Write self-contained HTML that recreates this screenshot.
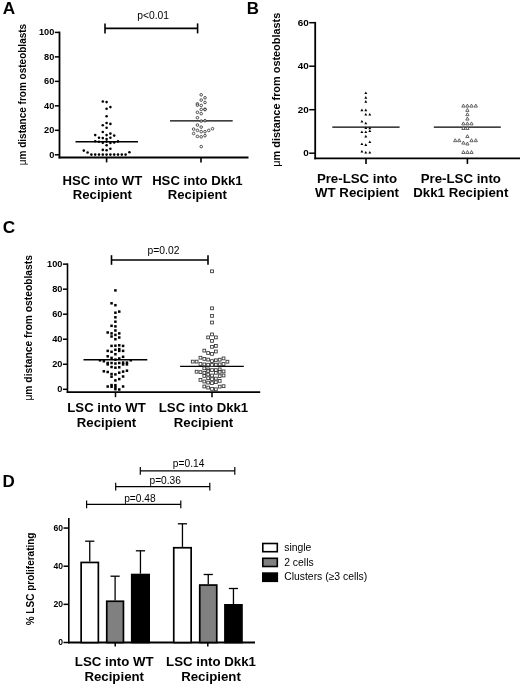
<!DOCTYPE html>
<html lang="en"><head><meta charset="utf-8"><title>Figure</title>
<style>
html,body{margin:0;padding:0;background:#fff;}
body{width:520px;height:686px;overflow:hidden;}
svg{display:block;will-change:transform;}
svg text{font-family:"Liberation Sans", Arial, Helvetica, sans-serif;fill:#000;}
</style></head><body>
<svg width="520" height="686" viewBox="0 0 520 686">
<rect x="0" y="0" width="520" height="686" fill="#fff"/>
<g id="panelA">
<text x="2.70" y="14.40" font-size="17.2" font-weight="bold" text-anchor="start" >A</text>
<text transform="translate(25.70,165.20) rotate(-90)" font-size="10" font-weight="bold"><tspan font-weight="normal">&#956;</tspan>m distance from osteoblasts</text>
<line x1="59.50" y1="31.60" x2="59.50" y2="158.40" stroke="#000" stroke-width="1.8"/>
<line x1="54.80" y1="154.80" x2="59.50" y2="154.80" stroke="#000" stroke-width="1.5"/>
<text x="54.30" y="157.65" font-size="9.2" font-weight="bold" text-anchor="end" >0</text>
<line x1="54.80" y1="130.32" x2="59.50" y2="130.32" stroke="#000" stroke-width="1.5"/>
<text x="54.30" y="133.17" font-size="9.2" font-weight="bold" text-anchor="end" >20</text>
<line x1="54.80" y1="105.84" x2="59.50" y2="105.84" stroke="#000" stroke-width="1.5"/>
<text x="54.30" y="108.69" font-size="9.2" font-weight="bold" text-anchor="end" >40</text>
<line x1="54.80" y1="81.36" x2="59.50" y2="81.36" stroke="#000" stroke-width="1.5"/>
<text x="54.30" y="84.21" font-size="9.2" font-weight="bold" text-anchor="end" >60</text>
<line x1="54.80" y1="56.88" x2="59.50" y2="56.88" stroke="#000" stroke-width="1.5"/>
<text x="54.30" y="59.73" font-size="9.2" font-weight="bold" text-anchor="end" >80</text>
<line x1="54.80" y1="32.40" x2="59.50" y2="32.40" stroke="#000" stroke-width="1.5"/>
<text x="54.30" y="35.25" font-size="9.2" font-weight="bold" text-anchor="end" >100</text>
<line x1="58.60" y1="157.50" x2="248.50" y2="157.50" stroke="#000" stroke-width="1.9"/>
<line x1="106.60" y1="157.50" x2="106.60" y2="162.40" stroke="#000" stroke-width="1.6"/>
<line x1="201.00" y1="157.50" x2="201.00" y2="162.40" stroke="#000" stroke-width="1.6"/>
<line x1="105.00" y1="28.40" x2="197.60" y2="28.40" stroke="#000" stroke-width="1.6"/>
<line x1="105.00" y1="23.40" x2="105.00" y2="33.40" stroke="#000" stroke-width="1.6"/>
<line x1="197.60" y1="23.40" x2="197.60" y2="33.40" stroke="#000" stroke-width="1.6"/>
<text x="153.20" y="19.20" font-size="10.3" font-weight="normal" text-anchor="middle" >p&lt;0.01</text>
<text x="102.40" y="184.90" font-size="13.15" font-weight="bold" text-anchor="middle" >HSC into WT</text>
<text x="102.40" y="199.10" font-size="13.15" font-weight="bold" text-anchor="middle" >Recipient</text>
<text x="197.40" y="184.90" font-size="13.15" font-weight="bold" text-anchor="middle" >HSC into Dkk1</text>
<text x="197.40" y="199.10" font-size="13.15" font-weight="bold" text-anchor="middle" >Recipient</text>
<line x1="75.50" y1="141.80" x2="138.00" y2="141.80" stroke="#000" stroke-width="1.4"/>
<line x1="170.00" y1="120.90" x2="232.70" y2="120.90" stroke="#000" stroke-width="1.4"/>
<circle cx="102.80" cy="101.50" r="1.28" fill="#000"/>
<circle cx="106.60" cy="102.10" r="1.28" fill="#000"/>
<circle cx="106.60" cy="108.70" r="1.28" fill="#000"/>
<circle cx="110.40" cy="107.10" r="1.28" fill="#000"/>
<circle cx="106.60" cy="116.30" r="1.28" fill="#000"/>
<circle cx="102.80" cy="125.30" r="1.28" fill="#000"/>
<circle cx="106.60" cy="123.00" r="1.28" fill="#000"/>
<circle cx="110.40" cy="123.90" r="1.28" fill="#000"/>
<circle cx="106.60" cy="127.70" r="1.28" fill="#000"/>
<circle cx="102.80" cy="132.00" r="1.28" fill="#000"/>
<circle cx="110.40" cy="133.60" r="1.28" fill="#000"/>
<circle cx="95.20" cy="135.10" r="1.28" fill="#000"/>
<circle cx="106.60" cy="135.10" r="1.28" fill="#000"/>
<circle cx="114.20" cy="135.60" r="1.28" fill="#000"/>
<circle cx="99.00" cy="137.80" r="1.28" fill="#000"/>
<circle cx="102.80" cy="138.10" r="1.28" fill="#000"/>
<circle cx="110.40" cy="137.80" r="1.28" fill="#000"/>
<circle cx="106.60" cy="139.10" r="1.28" fill="#000"/>
<circle cx="95.20" cy="141.20" r="1.28" fill="#000"/>
<circle cx="99.00" cy="141.80" r="1.28" fill="#000"/>
<circle cx="102.80" cy="142.80" r="1.28" fill="#000"/>
<circle cx="106.60" cy="141.60" r="1.28" fill="#000"/>
<circle cx="110.40" cy="143.00" r="1.28" fill="#000"/>
<circle cx="114.20" cy="142.40" r="1.28" fill="#000"/>
<circle cx="118.00" cy="141.40" r="1.28" fill="#000"/>
<circle cx="106.60" cy="145.20" r="1.28" fill="#000"/>
<circle cx="102.80" cy="149.90" r="1.28" fill="#000"/>
<circle cx="106.60" cy="150.20" r="1.28" fill="#000"/>
<circle cx="110.40" cy="148.80" r="1.28" fill="#000"/>
<circle cx="83.80" cy="150.60" r="1.28" fill="#000"/>
<circle cx="87.60" cy="152.50" r="1.28" fill="#000"/>
<circle cx="129.40" cy="152.20" r="1.28" fill="#000"/>
<circle cx="91.40" cy="154.60" r="1.28" fill="#000"/>
<circle cx="95.20" cy="154.60" r="1.28" fill="#000"/>
<circle cx="99.00" cy="154.60" r="1.28" fill="#000"/>
<circle cx="102.80" cy="154.60" r="1.28" fill="#000"/>
<circle cx="106.60" cy="154.60" r="1.28" fill="#000"/>
<circle cx="110.40" cy="154.60" r="1.28" fill="#000"/>
<circle cx="114.20" cy="154.60" r="1.28" fill="#000"/>
<circle cx="118.00" cy="154.60" r="1.28" fill="#000"/>
<circle cx="121.80" cy="154.60" r="1.28" fill="#000"/>
<circle cx="125.60" cy="154.60" r="1.28" fill="#000"/>
<circle cx="201.20" cy="94.80" r="1.3" fill="#fff" fill-opacity="0.6" stroke="#333" stroke-width="0.85"/>
<circle cx="204.98" cy="97.80" r="1.3" fill="#fff" fill-opacity="0.6" stroke="#333" stroke-width="0.85"/>
<circle cx="201.20" cy="100.10" r="1.3" fill="#fff" fill-opacity="0.6" stroke="#333" stroke-width="0.85"/>
<circle cx="204.98" cy="102.50" r="1.3" fill="#fff" fill-opacity="0.6" stroke="#333" stroke-width="0.85"/>
<circle cx="197.42" cy="103.80" r="1.3" fill="#fff" fill-opacity="0.6" stroke="#333" stroke-width="0.85"/>
<circle cx="197.42" cy="105.20" r="1.3" fill="#fff" fill-opacity="0.6" stroke="#333" stroke-width="0.85"/>
<circle cx="201.20" cy="105.50" r="1.3" fill="#fff" fill-opacity="0.6" stroke="#333" stroke-width="0.85"/>
<circle cx="201.20" cy="109.50" r="1.3" fill="#fff" fill-opacity="0.6" stroke="#333" stroke-width="0.85"/>
<circle cx="204.98" cy="109.20" r="1.3" fill="#fff" fill-opacity="0.6" stroke="#333" stroke-width="0.85"/>
<circle cx="204.98" cy="109.60" r="1.3" fill="#fff" fill-opacity="0.6" stroke="#333" stroke-width="0.85"/>
<circle cx="197.42" cy="112.30" r="1.3" fill="#fff" fill-opacity="0.6" stroke="#333" stroke-width="0.85"/>
<circle cx="201.20" cy="113.70" r="1.3" fill="#fff" fill-opacity="0.6" stroke="#333" stroke-width="0.85"/>
<circle cx="197.42" cy="117.70" r="1.3" fill="#fff" fill-opacity="0.6" stroke="#333" stroke-width="0.85"/>
<circle cx="201.20" cy="121.10" r="1.3" fill="#fff" fill-opacity="0.6" stroke="#333" stroke-width="0.85"/>
<circle cx="204.98" cy="120.70" r="1.3" fill="#fff" fill-opacity="0.6" stroke="#333" stroke-width="0.85"/>
<circle cx="197.42" cy="125.10" r="1.3" fill="#fff" fill-opacity="0.6" stroke="#333" stroke-width="0.85"/>
<circle cx="201.20" cy="127.10" r="1.3" fill="#fff" fill-opacity="0.6" stroke="#333" stroke-width="0.85"/>
<circle cx="193.64" cy="129.10" r="1.3" fill="#fff" fill-opacity="0.6" stroke="#333" stroke-width="0.85"/>
<circle cx="197.42" cy="130.40" r="1.3" fill="#fff" fill-opacity="0.6" stroke="#333" stroke-width="0.85"/>
<circle cx="201.20" cy="131.70" r="1.3" fill="#fff" fill-opacity="0.6" stroke="#333" stroke-width="0.85"/>
<circle cx="204.98" cy="131.70" r="1.3" fill="#fff" fill-opacity="0.6" stroke="#333" stroke-width="0.85"/>
<circle cx="208.76" cy="130.40" r="1.3" fill="#fff" fill-opacity="0.6" stroke="#333" stroke-width="0.85"/>
<circle cx="212.54" cy="128.70" r="1.3" fill="#fff" fill-opacity="0.6" stroke="#333" stroke-width="0.85"/>
<circle cx="193.64" cy="133.50" r="1.3" fill="#fff" fill-opacity="0.6" stroke="#333" stroke-width="0.85"/>
<circle cx="197.42" cy="136.40" r="1.3" fill="#fff" fill-opacity="0.6" stroke="#333" stroke-width="0.85"/>
<circle cx="201.20" cy="136.80" r="1.3" fill="#fff" fill-opacity="0.6" stroke="#333" stroke-width="0.85"/>
<circle cx="204.98" cy="135.70" r="1.3" fill="#fff" fill-opacity="0.6" stroke="#333" stroke-width="0.85"/>
<circle cx="201.20" cy="146.60" r="1.3" fill="#fff" fill-opacity="0.6" stroke="#333" stroke-width="0.85"/>
</g>
<g id="panelB">
<text x="246.70" y="14.30" font-size="16.9" font-weight="bold" text-anchor="start" >B</text>
<text transform="translate(280.40,166.70) rotate(-90)" font-size="10.9" font-weight="bold"><tspan font-weight="normal">&#956;</tspan>m distance from osteoblasts</text>
<line x1="315.20" y1="21.90" x2="315.20" y2="159.30" stroke="#000" stroke-width="1.8"/>
<line x1="309.20" y1="153.20" x2="315.20" y2="153.20" stroke="#000" stroke-width="1.5"/>
<text x="308.70" y="156.05" font-size="9.9" font-weight="bold" text-anchor="end" >0</text>
<line x1="309.20" y1="109.70" x2="315.20" y2="109.70" stroke="#000" stroke-width="1.5"/>
<text x="308.70" y="112.55" font-size="9.9" font-weight="bold" text-anchor="end" >20</text>
<line x1="309.20" y1="66.20" x2="315.20" y2="66.20" stroke="#000" stroke-width="1.5"/>
<text x="308.70" y="69.05" font-size="9.9" font-weight="bold" text-anchor="end" >40</text>
<line x1="309.20" y1="22.70" x2="315.20" y2="22.70" stroke="#000" stroke-width="1.5"/>
<text x="308.70" y="25.55" font-size="9.9" font-weight="bold" text-anchor="end" >60</text>
<line x1="314.30" y1="158.40" x2="520.00" y2="158.40" stroke="#000" stroke-width="1.9"/>
<line x1="366.00" y1="158.40" x2="366.00" y2="163.90" stroke="#000" stroke-width="1.6"/>
<line x1="467.40" y1="158.40" x2="467.40" y2="163.90" stroke="#000" stroke-width="1.6"/>
<text x="357.00" y="182.70" font-size="13.25" font-weight="bold" text-anchor="middle" >Pre-LSC into</text>
<text x="357.00" y="197.40" font-size="13.25" font-weight="bold" text-anchor="middle" >WT Recipient</text>
<text x="460.80" y="182.70" font-size="13.25" font-weight="bold" text-anchor="middle" >Pre-LSC into</text>
<text x="460.80" y="197.40" font-size="13.25" font-weight="bold" text-anchor="middle" >Dkk1 Recipient</text>
<line x1="332.30" y1="127.00" x2="399.60" y2="127.00" stroke="#000" stroke-width="1.25"/>
<line x1="433.80" y1="127.00" x2="500.80" y2="127.00" stroke="#000" stroke-width="1.25"/>
<polygon points="364.35,94.11 367.25,94.11 365.80,91.49" fill="#000"/>
<polygon points="364.35,98.71 367.25,98.71 365.80,96.09" fill="#000"/>
<polygon points="364.35,102.71 367.25,102.71 365.80,100.09" fill="#000"/>
<polygon points="360.45,111.21 363.35,111.21 361.90,108.59" fill="#000"/>
<polygon points="364.35,111.21 367.25,111.21 365.80,108.59" fill="#000"/>
<polygon points="364.35,115.51 367.25,115.51 365.80,112.89" fill="#000"/>
<polygon points="368.35,115.51 371.25,115.51 369.80,112.89" fill="#000"/>
<polygon points="360.45,122.61 363.35,122.61 361.90,119.99" fill="#000"/>
<polygon points="364.35,124.31 367.25,124.31 365.80,121.69" fill="#000"/>
<polygon points="364.35,129.10 367.25,129.10 365.80,126.49" fill="#000"/>
<polygon points="368.35,129.31 371.25,129.31 369.80,126.69" fill="#000"/>
<polygon points="360.45,133.00 363.35,133.00 361.90,130.39" fill="#000"/>
<polygon points="364.35,133.00 367.25,133.00 365.80,130.39" fill="#000"/>
<polygon points="368.35,132.11 371.25,132.11 369.80,129.50" fill="#000"/>
<polygon points="364.35,137.41 367.25,137.41 365.80,134.79" fill="#000"/>
<polygon points="368.35,143.11 371.25,143.11 369.80,140.50" fill="#000"/>
<polygon points="360.45,145.11 363.35,145.11 361.90,142.50" fill="#000"/>
<polygon points="364.35,145.91 367.25,145.91 365.80,143.29" fill="#000"/>
<polygon points="360.45,152.50 363.35,152.50 361.90,149.89" fill="#000"/>
<polygon points="364.35,153.61 367.25,153.61 365.80,151.00" fill="#000"/>
<polygon points="368.35,153.61 371.25,153.61 369.80,151.00" fill="#000"/>
<polygon points="461.75,107.08 465.05,107.08 463.40,104.11" fill="#fff" stroke="#444" stroke-width="0.8" stroke-linejoin="miter"/>
<polygon points="465.75,107.08 469.05,107.08 467.40,104.11" fill="#fff" stroke="#444" stroke-width="0.8" stroke-linejoin="miter"/>
<polygon points="469.85,107.08 473.15,107.08 471.50,104.11" fill="#fff" stroke="#444" stroke-width="0.8" stroke-linejoin="miter"/>
<polygon points="474.15,107.08 477.45,107.08 475.80,104.11" fill="#fff" stroke="#444" stroke-width="0.8" stroke-linejoin="miter"/>
<polygon points="465.75,111.39 469.05,111.39 467.40,108.42" fill="#fff" stroke="#444" stroke-width="0.8" stroke-linejoin="miter"/>
<polygon points="465.75,115.69 469.05,115.69 467.40,112.72" fill="#fff" stroke="#444" stroke-width="0.8" stroke-linejoin="miter"/>
<polygon points="465.75,120.08 469.05,120.08 467.40,117.11" fill="#fff" stroke="#444" stroke-width="0.8" stroke-linejoin="miter"/>
<polygon points="461.75,124.89 465.05,124.89 463.40,121.92" fill="#fff" stroke="#444" stroke-width="0.8" stroke-linejoin="miter"/>
<polygon points="465.75,124.89 469.05,124.89 467.40,121.92" fill="#fff" stroke="#444" stroke-width="0.8" stroke-linejoin="miter"/>
<polygon points="469.85,124.89 473.15,124.89 471.50,121.92" fill="#fff" stroke="#444" stroke-width="0.8" stroke-linejoin="miter"/>
<polygon points="461.75,129.49 465.05,129.49 463.40,126.52" fill="#fff" stroke="#444" stroke-width="0.8" stroke-linejoin="miter"/>
<polygon points="465.75,129.49 469.05,129.49 467.40,126.52" fill="#fff" stroke="#444" stroke-width="0.8" stroke-linejoin="miter"/>
<polygon points="465.75,137.59 469.05,137.59 467.40,134.61" fill="#fff" stroke="#444" stroke-width="0.8" stroke-linejoin="miter"/>
<polygon points="453.55,141.69 456.85,141.69 455.20,138.71" fill="#fff" stroke="#444" stroke-width="0.8" stroke-linejoin="miter"/>
<polygon points="457.55,141.69 460.85,141.69 459.20,138.71" fill="#fff" stroke="#444" stroke-width="0.8" stroke-linejoin="miter"/>
<polygon points="469.85,141.69 473.15,141.69 471.50,138.71" fill="#fff" stroke="#444" stroke-width="0.8" stroke-linejoin="miter"/>
<polygon points="474.15,141.69 477.45,141.69 475.80,138.71" fill="#fff" stroke="#444" stroke-width="0.8" stroke-linejoin="miter"/>
<polygon points="461.75,144.09 465.05,144.09 463.40,141.11" fill="#fff" stroke="#444" stroke-width="0.8" stroke-linejoin="miter"/>
<polygon points="465.75,144.99 469.05,144.99 467.40,142.01" fill="#fff" stroke="#444" stroke-width="0.8" stroke-linejoin="miter"/>
<polygon points="461.75,153.49 465.05,153.49 463.40,150.51" fill="#fff" stroke="#444" stroke-width="0.8" stroke-linejoin="miter"/>
<polygon points="465.75,153.49 469.05,153.49 467.40,150.51" fill="#fff" stroke="#444" stroke-width="0.8" stroke-linejoin="miter"/>
<polygon points="469.85,153.49 473.15,153.49 471.50,150.51" fill="#fff" stroke="#444" stroke-width="0.8" stroke-linejoin="miter"/>
</g>
<g id="panelC">
<text x="2.70" y="232.50" font-size="17.2" font-weight="bold" text-anchor="start" >C</text>
<text transform="translate(32.00,400.60) rotate(-90)" font-size="10.3" font-weight="bold"><tspan font-weight="normal">&#956;</tspan>m distance from osteoblasts</text>
<line x1="67.50" y1="263.40" x2="67.50" y2="393.00" stroke="#000" stroke-width="1.6"/>
<line x1="62.90" y1="389.30" x2="67.50" y2="389.30" stroke="#000" stroke-width="1.5"/>
<text x="62.40" y="392.15" font-size="9.2" font-weight="bold" text-anchor="end" >0</text>
<line x1="62.90" y1="364.27" x2="67.50" y2="364.27" stroke="#000" stroke-width="1.5"/>
<text x="62.40" y="367.12" font-size="9.2" font-weight="bold" text-anchor="end" >20</text>
<line x1="62.90" y1="339.24" x2="67.50" y2="339.24" stroke="#000" stroke-width="1.5"/>
<text x="62.40" y="342.09" font-size="9.2" font-weight="bold" text-anchor="end" >40</text>
<line x1="62.90" y1="314.21" x2="67.50" y2="314.21" stroke="#000" stroke-width="1.5"/>
<text x="62.40" y="317.06" font-size="9.2" font-weight="bold" text-anchor="end" >60</text>
<line x1="62.90" y1="289.18" x2="67.50" y2="289.18" stroke="#000" stroke-width="1.5"/>
<text x="62.40" y="292.03" font-size="9.2" font-weight="bold" text-anchor="end" >80</text>
<line x1="62.90" y1="264.15" x2="67.50" y2="264.15" stroke="#000" stroke-width="1.5"/>
<text x="62.40" y="267.00" font-size="9.2" font-weight="bold" text-anchor="end" >100</text>
<line x1="66.70" y1="392.20" x2="260.20" y2="392.20" stroke="#000" stroke-width="1.7"/>
<line x1="115.50" y1="392.20" x2="115.50" y2="397.20" stroke="#000" stroke-width="1.5"/>
<line x1="212.00" y1="392.20" x2="212.00" y2="397.20" stroke="#000" stroke-width="1.5"/>
<line x1="111.50" y1="260.00" x2="208.00" y2="260.00" stroke="#000" stroke-width="1.6"/>
<line x1="111.50" y1="255.20" x2="111.50" y2="264.80" stroke="#000" stroke-width="1.6"/>
<line x1="208.00" y1="255.20" x2="208.00" y2="264.80" stroke="#000" stroke-width="1.6"/>
<text x="163.50" y="254.40" font-size="10.3" font-weight="normal" text-anchor="middle" >p=0.02</text>
<text x="106.50" y="412.00" font-size="13.2" font-weight="bold" text-anchor="middle" >LSC into WT</text>
<text x="106.50" y="426.70" font-size="13.2" font-weight="bold" text-anchor="middle" >Recipient</text>
<text x="203.50" y="412.00" font-size="13.2" font-weight="bold" text-anchor="middle" >LSC into Dkk1</text>
<text x="203.50" y="426.70" font-size="13.2" font-weight="bold" text-anchor="middle" >Recipient</text>
<line x1="83.50" y1="359.70" x2="147.30" y2="359.70" stroke="#000" stroke-width="1.35"/>
<line x1="180.10" y1="366.40" x2="243.80" y2="366.40" stroke="#000" stroke-width="1.35"/>
<rect x="114.15" y="289.15" width="2.5" height="2.5" fill="#000"/>
<rect x="110.30" y="302.05" width="2.5" height="2.5" fill="#000"/>
<rect x="114.15" y="303.95" width="2.5" height="2.5" fill="#000"/>
<rect x="118.00" y="310.35" width="2.5" height="2.5" fill="#000"/>
<rect x="114.15" y="311.45" width="2.5" height="2.5" fill="#000"/>
<rect x="114.15" y="316.05" width="2.5" height="2.5" fill="#000"/>
<rect x="114.15" y="320.45" width="2.5" height="2.5" fill="#000"/>
<rect x="110.30" y="324.55" width="2.5" height="2.5" fill="#000"/>
<rect x="114.15" y="325.15" width="2.5" height="2.5" fill="#000"/>
<rect x="114.15" y="329.25" width="2.5" height="2.5" fill="#000"/>
<rect x="106.45" y="331.25" width="2.5" height="2.5" fill="#000"/>
<rect x="110.30" y="332.15" width="2.5" height="2.5" fill="#000"/>
<rect x="118.00" y="332.15" width="2.5" height="2.5" fill="#000"/>
<rect x="114.15" y="333.65" width="2.5" height="2.5" fill="#000"/>
<rect x="110.30" y="335.25" width="2.5" height="2.5" fill="#000"/>
<rect x="118.00" y="336.25" width="2.5" height="2.5" fill="#000"/>
<rect x="114.15" y="337.95" width="2.5" height="2.5" fill="#000"/>
<rect x="110.30" y="344.65" width="2.5" height="2.5" fill="#000"/>
<rect x="114.15" y="344.45" width="2.5" height="2.5" fill="#000"/>
<rect x="118.00" y="344.05" width="2.5" height="2.5" fill="#000"/>
<rect x="121.85" y="344.65" width="2.5" height="2.5" fill="#000"/>
<rect x="106.45" y="349.65" width="2.5" height="2.5" fill="#000"/>
<rect x="110.30" y="350.55" width="2.5" height="2.5" fill="#000"/>
<rect x="114.15" y="348.55" width="2.5" height="2.5" fill="#000"/>
<rect x="118.00" y="347.85" width="2.5" height="2.5" fill="#000"/>
<rect x="118.00" y="349.65" width="2.5" height="2.5" fill="#000"/>
<rect x="121.85" y="349.65" width="2.5" height="2.5" fill="#000"/>
<rect x="114.15" y="352.95" width="2.5" height="2.5" fill="#000"/>
<rect x="106.45" y="355.05" width="2.5" height="2.5" fill="#000"/>
<rect x="121.85" y="355.55" width="2.5" height="2.5" fill="#000"/>
<rect x="110.30" y="356.65" width="2.5" height="2.5" fill="#000"/>
<rect x="118.00" y="357.25" width="2.5" height="2.5" fill="#000"/>
<rect x="98.75" y="359.05" width="2.5" height="2.5" fill="#000"/>
<rect x="102.60" y="359.95" width="2.5" height="2.5" fill="#000"/>
<rect x="114.15" y="358.35" width="2.5" height="2.5" fill="#000"/>
<rect x="129.55" y="359.05" width="2.5" height="2.5" fill="#000"/>
<rect x="106.45" y="361.75" width="2.5" height="2.5" fill="#000"/>
<rect x="110.30" y="361.75" width="2.5" height="2.5" fill="#000"/>
<rect x="114.15" y="362.25" width="2.5" height="2.5" fill="#000"/>
<rect x="118.00" y="361.75" width="2.5" height="2.5" fill="#000"/>
<rect x="121.85" y="361.35" width="2.5" height="2.5" fill="#000"/>
<rect x="125.70" y="361.35" width="2.5" height="2.5" fill="#000"/>
<rect x="106.45" y="363.15" width="2.5" height="2.5" fill="#000"/>
<rect x="121.85" y="363.15" width="2.5" height="2.5" fill="#000"/>
<rect x="125.70" y="363.15" width="2.5" height="2.5" fill="#000"/>
<rect x="110.30" y="365.75" width="2.5" height="2.5" fill="#000"/>
<rect x="114.15" y="366.45" width="2.5" height="2.5" fill="#000"/>
<rect x="118.00" y="366.05" width="2.5" height="2.5" fill="#000"/>
<rect x="102.60" y="370.05" width="2.5" height="2.5" fill="#000"/>
<rect x="106.45" y="370.75" width="2.5" height="2.5" fill="#000"/>
<rect x="118.00" y="371.45" width="2.5" height="2.5" fill="#000"/>
<rect x="121.85" y="370.35" width="2.5" height="2.5" fill="#000"/>
<rect x="125.70" y="369.45" width="2.5" height="2.5" fill="#000"/>
<rect x="110.30" y="372.75" width="2.5" height="2.5" fill="#000"/>
<rect x="114.15" y="373.15" width="2.5" height="2.5" fill="#000"/>
<rect x="110.30" y="375.45" width="2.5" height="2.5" fill="#000"/>
<rect x="121.85" y="375.25" width="2.5" height="2.5" fill="#000"/>
<rect x="118.00" y="377.85" width="2.5" height="2.5" fill="#000"/>
<rect x="114.15" y="379.15" width="2.5" height="2.5" fill="#000"/>
<rect x="106.45" y="385.25" width="2.5" height="2.5" fill="#000"/>
<rect x="110.30" y="383.85" width="2.5" height="2.5" fill="#000"/>
<rect x="110.30" y="385.55" width="2.5" height="2.5" fill="#000"/>
<rect x="114.15" y="383.95" width="2.5" height="2.5" fill="#000"/>
<rect x="114.15" y="385.85" width="2.5" height="2.5" fill="#000"/>
<rect x="121.85" y="385.25" width="2.5" height="2.5" fill="#000"/>
<rect x="114.15" y="387.95" width="2.5" height="2.5" fill="#000"/>
<rect x="118.00" y="388.25" width="2.5" height="2.5" fill="#000"/>
<rect x="210.60" y="269.90" width="2.8" height="2.8" fill="#fff" fill-opacity="0.6" stroke="#333" stroke-width="0.85"/>
<rect x="210.60" y="306.90" width="2.8" height="2.8" fill="#fff" fill-opacity="0.6" stroke="#333" stroke-width="0.85"/>
<rect x="210.60" y="314.50" width="2.8" height="2.8" fill="#fff" fill-opacity="0.6" stroke="#333" stroke-width="0.85"/>
<rect x="210.60" y="321.10" width="2.8" height="2.8" fill="#fff" fill-opacity="0.6" stroke="#333" stroke-width="0.85"/>
<rect x="210.60" y="333.00" width="2.8" height="2.8" fill="#fff" fill-opacity="0.6" stroke="#333" stroke-width="0.85"/>
<rect x="206.75" y="336.00" width="2.8" height="2.8" fill="#fff" fill-opacity="0.6" stroke="#333" stroke-width="0.85"/>
<rect x="214.45" y="336.00" width="2.8" height="2.8" fill="#fff" fill-opacity="0.6" stroke="#333" stroke-width="0.85"/>
<rect x="210.60" y="339.50" width="2.8" height="2.8" fill="#fff" fill-opacity="0.6" stroke="#333" stroke-width="0.85"/>
<rect x="210.60" y="345.40" width="2.8" height="2.8" fill="#fff" fill-opacity="0.6" stroke="#333" stroke-width="0.85"/>
<rect x="214.45" y="344.50" width="2.8" height="2.8" fill="#fff" fill-opacity="0.6" stroke="#333" stroke-width="0.85"/>
<rect x="202.90" y="349.20" width="2.8" height="2.8" fill="#fff" fill-opacity="0.6" stroke="#333" stroke-width="0.85"/>
<rect x="206.75" y="351.60" width="2.8" height="2.8" fill="#fff" fill-opacity="0.6" stroke="#333" stroke-width="0.85"/>
<rect x="210.60" y="352.50" width="2.8" height="2.8" fill="#fff" fill-opacity="0.6" stroke="#333" stroke-width="0.85"/>
<rect x="214.45" y="350.10" width="2.8" height="2.8" fill="#fff" fill-opacity="0.6" stroke="#333" stroke-width="0.85"/>
<rect x="199.05" y="356.30" width="2.8" height="2.8" fill="#fff" fill-opacity="0.6" stroke="#333" stroke-width="0.85"/>
<rect x="202.90" y="357.50" width="2.8" height="2.8" fill="#fff" fill-opacity="0.6" stroke="#333" stroke-width="0.85"/>
<rect x="206.75" y="358.20" width="2.8" height="2.8" fill="#fff" fill-opacity="0.6" stroke="#333" stroke-width="0.85"/>
<rect x="210.60" y="359.70" width="2.8" height="2.8" fill="#fff" fill-opacity="0.6" stroke="#333" stroke-width="0.85"/>
<rect x="214.45" y="358.90" width="2.8" height="2.8" fill="#fff" fill-opacity="0.6" stroke="#333" stroke-width="0.85"/>
<rect x="218.30" y="358.30" width="2.8" height="2.8" fill="#fff" fill-opacity="0.6" stroke="#333" stroke-width="0.85"/>
<rect x="222.15" y="357.00" width="2.8" height="2.8" fill="#fff" fill-opacity="0.6" stroke="#333" stroke-width="0.85"/>
<rect x="191.35" y="360.20" width="2.8" height="2.8" fill="#fff" fill-opacity="0.6" stroke="#333" stroke-width="0.85"/>
<rect x="195.20" y="360.20" width="2.8" height="2.8" fill="#fff" fill-opacity="0.6" stroke="#333" stroke-width="0.85"/>
<rect x="226.00" y="360.30" width="2.8" height="2.8" fill="#fff" fill-opacity="0.6" stroke="#333" stroke-width="0.85"/>
<rect x="199.05" y="362.60" width="2.8" height="2.8" fill="#fff" fill-opacity="0.6" stroke="#333" stroke-width="0.85"/>
<rect x="202.90" y="363.00" width="2.8" height="2.8" fill="#fff" fill-opacity="0.6" stroke="#333" stroke-width="0.85"/>
<rect x="206.75" y="363.30" width="2.8" height="2.8" fill="#fff" fill-opacity="0.6" stroke="#333" stroke-width="0.85"/>
<rect x="210.60" y="363.60" width="2.8" height="2.8" fill="#fff" fill-opacity="0.6" stroke="#333" stroke-width="0.85"/>
<rect x="214.45" y="363.30" width="2.8" height="2.8" fill="#fff" fill-opacity="0.6" stroke="#333" stroke-width="0.85"/>
<rect x="218.30" y="363.00" width="2.8" height="2.8" fill="#fff" fill-opacity="0.6" stroke="#333" stroke-width="0.85"/>
<rect x="222.15" y="362.60" width="2.8" height="2.8" fill="#fff" fill-opacity="0.6" stroke="#333" stroke-width="0.85"/>
<rect x="202.90" y="366.90" width="2.8" height="2.8" fill="#fff" fill-opacity="0.6" stroke="#333" stroke-width="0.85"/>
<rect x="206.75" y="368.00" width="2.8" height="2.8" fill="#fff" fill-opacity="0.6" stroke="#333" stroke-width="0.85"/>
<rect x="210.60" y="368.70" width="2.8" height="2.8" fill="#fff" fill-opacity="0.6" stroke="#333" stroke-width="0.85"/>
<rect x="214.45" y="368.70" width="2.8" height="2.8" fill="#fff" fill-opacity="0.6" stroke="#333" stroke-width="0.85"/>
<rect x="218.30" y="368.00" width="2.8" height="2.8" fill="#fff" fill-opacity="0.6" stroke="#333" stroke-width="0.85"/>
<rect x="195.20" y="370.30" width="2.8" height="2.8" fill="#fff" fill-opacity="0.6" stroke="#333" stroke-width="0.85"/>
<rect x="199.05" y="370.70" width="2.8" height="2.8" fill="#fff" fill-opacity="0.6" stroke="#333" stroke-width="0.85"/>
<rect x="202.90" y="371.40" width="2.8" height="2.8" fill="#fff" fill-opacity="0.6" stroke="#333" stroke-width="0.85"/>
<rect x="206.75" y="369.60" width="2.8" height="2.8" fill="#fff" fill-opacity="0.6" stroke="#333" stroke-width="0.85"/>
<rect x="214.45" y="371.40" width="2.8" height="2.8" fill="#fff" fill-opacity="0.6" stroke="#333" stroke-width="0.85"/>
<rect x="218.30" y="370.40" width="2.8" height="2.8" fill="#fff" fill-opacity="0.6" stroke="#333" stroke-width="0.85"/>
<rect x="222.15" y="370.00" width="2.8" height="2.8" fill="#fff" fill-opacity="0.6" stroke="#333" stroke-width="0.85"/>
<rect x="202.90" y="374.50" width="2.8" height="2.8" fill="#fff" fill-opacity="0.6" stroke="#333" stroke-width="0.85"/>
<rect x="206.75" y="373.10" width="2.8" height="2.8" fill="#fff" fill-opacity="0.6" stroke="#333" stroke-width="0.85"/>
<rect x="210.60" y="374.10" width="2.8" height="2.8" fill="#fff" fill-opacity="0.6" stroke="#333" stroke-width="0.85"/>
<rect x="218.30" y="374.70" width="2.8" height="2.8" fill="#fff" fill-opacity="0.6" stroke="#333" stroke-width="0.85"/>
<rect x="222.15" y="374.10" width="2.8" height="2.8" fill="#fff" fill-opacity="0.6" stroke="#333" stroke-width="0.85"/>
<rect x="199.05" y="378.50" width="2.8" height="2.8" fill="#fff" fill-opacity="0.6" stroke="#333" stroke-width="0.85"/>
<rect x="202.90" y="380.10" width="2.8" height="2.8" fill="#fff" fill-opacity="0.6" stroke="#333" stroke-width="0.85"/>
<rect x="206.75" y="376.80" width="2.8" height="2.8" fill="#fff" fill-opacity="0.6" stroke="#333" stroke-width="0.85"/>
<rect x="210.60" y="377.70" width="2.8" height="2.8" fill="#fff" fill-opacity="0.6" stroke="#333" stroke-width="0.85"/>
<rect x="214.45" y="377.20" width="2.8" height="2.8" fill="#fff" fill-opacity="0.6" stroke="#333" stroke-width="0.85"/>
<rect x="218.30" y="379.50" width="2.8" height="2.8" fill="#fff" fill-opacity="0.6" stroke="#333" stroke-width="0.85"/>
<rect x="206.75" y="381.20" width="2.8" height="2.8" fill="#fff" fill-opacity="0.6" stroke="#333" stroke-width="0.85"/>
<rect x="210.60" y="381.70" width="2.8" height="2.8" fill="#fff" fill-opacity="0.6" stroke="#333" stroke-width="0.85"/>
<rect x="214.45" y="380.80" width="2.8" height="2.8" fill="#fff" fill-opacity="0.6" stroke="#333" stroke-width="0.85"/>
<rect x="202.90" y="385.10" width="2.8" height="2.8" fill="#fff" fill-opacity="0.6" stroke="#333" stroke-width="0.85"/>
<rect x="206.75" y="386.20" width="2.8" height="2.8" fill="#fff" fill-opacity="0.6" stroke="#333" stroke-width="0.85"/>
<rect x="210.60" y="387.50" width="2.8" height="2.8" fill="#fff" fill-opacity="0.6" stroke="#333" stroke-width="0.85"/>
<rect x="214.45" y="387.90" width="2.8" height="2.8" fill="#fff" fill-opacity="0.6" stroke="#333" stroke-width="0.85"/>
<rect x="218.30" y="385.20" width="2.8" height="2.8" fill="#fff" fill-opacity="0.6" stroke="#333" stroke-width="0.85"/>
<rect x="222.15" y="384.80" width="2.8" height="2.8" fill="#fff" fill-opacity="0.6" stroke="#333" stroke-width="0.85"/>
</g>
<g id="panelD">
<text x="2.60" y="486.90" font-size="17.0" font-weight="bold" text-anchor="start" >D</text>
<text transform="translate(33.80,625.30) rotate(-90)" font-size="10" font-weight="bold">% LSC proliferating</text>
<line x1="68.80" y1="518.00" x2="68.80" y2="643.30" stroke="#000" stroke-width="1.6"/>
<line x1="63.50" y1="642.50" x2="68.80" y2="642.50" stroke="#000" stroke-width="1.5"/>
<text x="63.00" y="645.35" font-size="8.6" font-weight="bold" text-anchor="end" >0</text>
<line x1="63.50" y1="604.35" x2="68.80" y2="604.35" stroke="#000" stroke-width="1.5"/>
<text x="63.00" y="607.20" font-size="8.6" font-weight="bold" text-anchor="end" >20</text>
<line x1="63.50" y1="566.20" x2="68.80" y2="566.20" stroke="#000" stroke-width="1.5"/>
<text x="63.00" y="569.05" font-size="8.6" font-weight="bold" text-anchor="end" >40</text>
<line x1="63.50" y1="528.05" x2="68.80" y2="528.05" stroke="#000" stroke-width="1.5"/>
<text x="63.00" y="530.90" font-size="8.6" font-weight="bold" text-anchor="end" >60</text>
<line x1="68.00" y1="642.50" x2="255.00" y2="642.50" stroke="#000" stroke-width="1.8"/>
<line x1="115.20" y1="642.50" x2="115.20" y2="646.40" stroke="#000" stroke-width="1.5"/>
<line x1="207.80" y1="642.50" x2="207.80" y2="646.40" stroke="#000" stroke-width="1.5"/>
<line x1="86.60" y1="504.30" x2="180.80" y2="504.30" stroke="#000" stroke-width="1.2"/>
<line x1="86.60" y1="500.40" x2="86.60" y2="508.20" stroke="#000" stroke-width="1.2"/>
<line x1="180.80" y1="500.40" x2="180.80" y2="508.20" stroke="#000" stroke-width="1.2"/>
<line x1="115.70" y1="486.60" x2="209.80" y2="486.60" stroke="#000" stroke-width="1.2"/>
<line x1="115.70" y1="482.70" x2="115.70" y2="490.50" stroke="#000" stroke-width="1.2"/>
<line x1="209.80" y1="482.70" x2="209.80" y2="490.50" stroke="#000" stroke-width="1.2"/>
<line x1="140.30" y1="470.80" x2="234.80" y2="470.80" stroke="#000" stroke-width="1.2"/>
<line x1="140.30" y1="466.90" x2="140.30" y2="474.70" stroke="#000" stroke-width="1.2"/>
<line x1="234.80" y1="466.90" x2="234.80" y2="474.70" stroke="#000" stroke-width="1.2"/>
<text x="139.90" y="502.00" font-size="10.2" font-weight="normal" text-anchor="middle" >p=0.48</text>
<text x="165.20" y="483.80" font-size="10.2" font-weight="normal" text-anchor="middle" >p=0.36</text>
<text x="188.60" y="466.80" font-size="10.2" font-weight="normal" text-anchor="middle" >p=0.14</text>
<text x="114.20" y="665.80" font-size="13.25" font-weight="bold" text-anchor="middle" >LSC into WT</text>
<text x="114.20" y="680.60" font-size="13.25" font-weight="bold" text-anchor="middle" >Recipient</text>
<text x="211.00" y="665.80" font-size="13.25" font-weight="bold" text-anchor="middle" >LSC into Dkk1</text>
<text x="211.00" y="680.60" font-size="13.25" font-weight="bold" text-anchor="middle" >Recipient</text>
<line x1="89.75" y1="541.20" x2="89.75" y2="561.60" stroke="#000" stroke-width="1.3"/>
<line x1="85.15" y1="541.20" x2="94.35" y2="541.20" stroke="#000" stroke-width="1.3"/>
<rect x="81.15" y="562.45" width="17.20" height="80.05" fill="#fff" stroke="#000" stroke-width="1.7"/>
<line x1="115.10" y1="576.20" x2="115.10" y2="600.40" stroke="#000" stroke-width="1.3"/>
<line x1="110.50" y1="576.20" x2="119.70" y2="576.20" stroke="#000" stroke-width="1.3"/>
<rect x="106.75" y="601.25" width="16.70" height="41.25" fill="#808080" stroke="#000" stroke-width="1.7"/>
<line x1="140.45" y1="550.80" x2="140.45" y2="573.70" stroke="#000" stroke-width="1.3"/>
<line x1="135.85" y1="550.80" x2="145.05" y2="550.80" stroke="#000" stroke-width="1.3"/>
<rect x="131.75" y="574.55" width="17.40" height="67.95" fill="#000" stroke="#000" stroke-width="1.7"/>
<line x1="182.45" y1="523.80" x2="182.45" y2="546.90" stroke="#000" stroke-width="1.3"/>
<line x1="177.85" y1="523.80" x2="187.05" y2="523.80" stroke="#000" stroke-width="1.3"/>
<rect x="173.75" y="547.75" width="17.40" height="94.75" fill="#fff" stroke="#000" stroke-width="1.7"/>
<line x1="208.25" y1="574.50" x2="208.25" y2="584.20" stroke="#000" stroke-width="1.3"/>
<line x1="203.65" y1="574.50" x2="212.85" y2="574.50" stroke="#000" stroke-width="1.3"/>
<rect x="199.75" y="585.05" width="17.00" height="57.45" fill="#808080" stroke="#000" stroke-width="1.7"/>
<line x1="233.45" y1="588.50" x2="233.45" y2="604.00" stroke="#000" stroke-width="1.3"/>
<line x1="228.85" y1="588.50" x2="238.05" y2="588.50" stroke="#000" stroke-width="1.3"/>
<rect x="224.95" y="604.85" width="17.00" height="37.65" fill="#000" stroke="#000" stroke-width="1.7"/>
<rect x="262.80" y="543.50" width="14.50" height="8.20" fill="#fff" stroke="#000" stroke-width="1.6"/>
<text x="284.20" y="551.20" font-size="10.4" font-weight="normal" text-anchor="start" >single</text>
<rect x="262.80" y="558.30" width="14.50" height="8.20" fill="#808080" stroke="#000" stroke-width="1.6"/>
<text x="284.20" y="565.75" font-size="10.4" font-weight="normal" text-anchor="start" >2 cells</text>
<rect x="262.80" y="573.10" width="14.50" height="8.20" fill="#000" stroke="#000" stroke-width="1.6"/>
<text x="284.20" y="580.30" font-size="10.4" font-weight="normal" text-anchor="start" >Clusters (&#8805;3 cells)</text>
</g>
</svg>
</body></html>
